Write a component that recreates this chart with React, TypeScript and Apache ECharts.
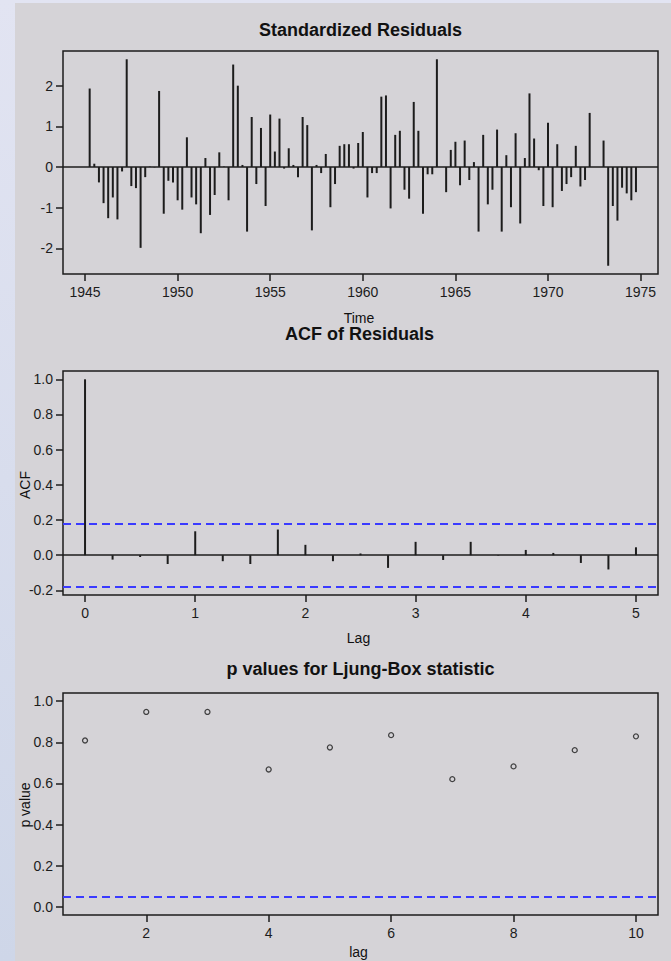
import React, { useEffect, useRef } from "react";
import * as echarts from "echarts";

// ---------- data ----------
const residualStartYear = 1945;
const residualsPerYear = 4;
const residuals = [
  0.0, 1.93, 0.08, -0.38,
  -0.89, -1.26, -0.75, -1.29,
  -0.11, 2.65, -0.47, -0.52,
  -1.99, -0.25, 0.01, -0.01,
  1.87, -1.15, -0.34, -0.38,
  -0.82, -1.05, 0.73, -0.75,
  -0.92, -1.63, 0.22, -1.18,
  -0.69, 0.36, 0.01, -0.82,
  2.52, 2.0, 0.05, -1.59,
  1.23, -0.42, 0.96, -0.96,
  1.29, 0.38, 1.19, -0.04,
  0.46, 0.05, -0.25, 1.23,
  1.03, -1.56, 0.05, -0.15,
  0.32, -0.99, -0.42, 0.52,
  0.56, 0.56, -0.04, 0.59,
  0.86, -0.75, -0.15, -0.15,
  1.73, 1.76, -1.02, 0.79,
  0.89, -0.56, -0.78, 1.6,
  0.89, -1.15, -0.18, -0.18,
  2.65, 0.0, -0.62, 0.42,
  0.62, -0.45, 0.65, -0.32,
  0.12, -1.59, 0.79, -0.92,
  -0.56, 0.92, -1.59, 0.29,
  -0.99, 0.83, -1.39, 0.22,
  1.81, 0.7, -0.08, -0.96,
  1.09, -0.99, 0.56, -0.59,
  -0.42, -0.25, 0.52, -0.48,
  -0.32, 1.33, 0.0, 0.0,
  0.65, -2.43, -0.96, -1.32,
  -0.51, -0.65, -0.82, -0.62,
];
const timeTicks = [1945, 1950, 1955, 1960, 1965, 1970, 1975];
const residualTicks = [-2, -1, 0, 1, 2];

const acfLags = [
  0, 0.25, 0.5, 0.75, 1, 1.25, 1.5, 1.75, 2, 2.25, 2.5,
  2.75, 3, 3.25, 3.5, 3.75, 4, 4.25, 4.5, 4.75, 5,
];
const acfValues = [
  1.0, -0.025, -0.01, -0.05, 0.136, -0.034, -0.05, 0.146, 0.059, -0.034, 0.01,
  -0.072, 0.076, -0.027, 0.076, -0.003, 0.03, 0.013, -0.044, -0.081, 0.045,
];
const acfBound = 0.179;
const acfXTicks = [0, 1, 2, 3, 4, 5];
const acfYTicks = [-0.2, 0, 0.2, 0.4, 0.6, 0.8, 1.0];

const ljungLags = [1, 2, 3, 4, 5, 6, 7, 8, 9, 10];
const ljungPValues = [0.809, 0.948, 0.948, 0.668, 0.775, 0.835, 0.621, 0.683, 0.762, 0.829];
const pThreshold = 0.05;
const pXTicks = [2, 4, 6, 8, 10];
const pYTicks = [0, 0.2, 0.4, 0.6, 0.8, 1.0];

// ---------- helpers ----------
const FONT = '"Liberation Sans", Arial, Helvetica, sans-serif';
const INK = "#1c1c1c";
const BLUE = "#3a3aff";

function rRange(lo: number, hi: number): [number, number] {
  const d = (hi - lo) * 0.04;
  return [lo - d, hi + d];
}

function valueAxis(
  gridIndex: number,
  range: [number, number],
  ticks: number[],
  fmt: (v: number) => string,
  margin: number
) {
  return {
    gridIndex,
    type: "value",
    min: range[0],
    max: range[1],
    axisLine: { show: false, onZero: false },
    splitLine: { show: false },
    axisTick: {
      show: true,
      inside: false,
      length: 7,
      customValues: ticks,
      lineStyle: { color: INK, width: 1.5 },
    },
    axisLabel: {
      customValues: ticks,
      formatter: fmt,
      fontSize: 14,
      fontFamily: FONT,
      color: INK,
      margin,
    },
  };
}

function stemSeries(axisIndex: number, data: number[][]) {
  return {
    type: "custom",
    coordinateSystem: "cartesian2d",
    xAxisIndex: axisIndex,
    yAxisIndex: axisIndex,
    silent: true,
    data,
    encode: { x: 0, y: 1 },
    renderItem: (_params: any, api: any) => {
      const x = api.value(0);
      const y = api.value(1);
      const a = api.coord([x, 0]);
      const b = api.coord([x, y]);
      return {
        type: "line",
        shape: { x1: a[0], y1: a[1], x2: b[0], y2: b[1] },
        style: { stroke: INK, lineWidth: 2 },
      };
    },
  };
}

function refLine(value: number, color: string, dashed: boolean) {
  return {
    yAxis: value,
    lineStyle: {
      color,
      width: dashed ? 2 : 1.6,
      type: dashed ? [8, 5] : "solid",
    },
  };
}

function holderSeries(axisIndex: number, data: number[][], lines: any[]) {
  return {
    type: "line",
    xAxisIndex: axisIndex,
    yAxisIndex: axisIndex,
    data,
    showSymbol: false,
    symbol: "none",
    silent: true,
    lineStyle: { opacity: 0, width: 0 },
    markLine: {
      silent: true,
      symbol: "none",
      animation: false,
      label: { show: false },
      data: lines,
    },
  };
}

function text(
  str: string,
  x: number,
  y: number,
  size: number,
  bold: boolean,
  rotate = 0
) {
  return {
    type: "text",
    x,
    y,
    rotation: rotate,
    silent: true,
    style: {
      text: str,
      font: `${bold ? "bold " : ""}${size}px ${FONT}`,
      fill: "#111",
      align: "center",
      verticalAlign: "middle",
      textAlign: "center",
      textVerticalAlign: "middle",
    },
  };
}

export default function App() {
  const ref = useRef<HTMLDivElement>(null);

  useEffect(() => {
    if (!ref.current) return;
    const chart = echarts.init(ref.current, undefined, { renderer: "svg" });

    const residualPoints = residuals.map((v, i) => [
      residualStartYear + i / residualsPerYear,
      v,
    ]);
    const acfPoints = acfLags.map((l, i) => [l, acfValues[i]]);
    const pPoints = ljungLags.map((l, i) => [l, ljungPValues[i]]);

    const tRange = rRange(
      residualPoints[0][0],
      residualPoints[residualPoints.length - 1][0]
    );
    const rRangeY = rRange(Math.min(...residuals), Math.max(...residuals));
    const acfX = rRange(acfLags[0], acfLags[acfLags.length - 1]);
    const acfY = rRange(
      Math.min(-acfBound, ...acfValues),
      Math.max(acfBound, ...acfValues)
    );
    const pX = rRange(ljungLags[0], ljungLags[ljungLags.length - 1]);
    const pY = rRange(0, 1);

    const gridBase = {
      left: 63,
      right: 13,
      show: true,
      borderColor: INK,
      borderWidth: 1.5,
      backgroundColor: "transparent",
    };

    const intFmt = (v: number) => String(Math.round(v));
    const dec1 = (v: number) => (Math.abs(v) < 1e-9 ? 0 : v).toFixed(1);

    chart.setOption({
      animation: false,
      backgroundColor: "transparent",
      grid: [
        { ...gridBase, top: 51, height: 223 },
        { ...gridBase, top: 371, height: 224 },
        { ...gridBase, top: 693, height: 222 },
      ],
      xAxis: [
        valueAxis(0, tRange, timeTicks, intFmt, 11),
        valueAxis(1, acfX, acfXTicks, intFmt, 11),
        valueAxis(2, pX, pXTicks, intFmt, 11),
      ],
      yAxis: [
        valueAxis(0, rRangeY, residualTicks, intFmt, 10),
        valueAxis(1, acfY, acfYTicks, dec1, 10),
        valueAxis(2, pY, pYTicks, dec1, 10),
      ],
      series: [
        holderSeries(0, residualPoints, [refLine(0, INK, false)]),
        stemSeries(0, residualPoints),
        holderSeries(1, acfPoints, [
          refLine(0, INK, false),
          refLine(acfBound, BLUE, true),
          refLine(-acfBound, BLUE, true),
        ]),
        stemSeries(1, acfPoints),
        {
          type: "scatter",
          xAxisIndex: 2,
          yAxisIndex: 2,
          data: pPoints,
          symbol: "circle",
          symbolSize: 5,
          silent: true,
          itemStyle: { color: "transparent", borderColor: INK, borderWidth: 1.3 },
          markLine: {
            silent: true,
            symbol: "none",
            animation: false,
            label: { show: false },
            data: [refLine(pThreshold, BLUE, true)],
          },
        },
      ],
      graphic: [
        text("Standardized Residuals", 360.5, 29.5, 18, true),
        text("Time", 359, 317.5, 14, false),
        text("ACF of Residuals", 359.5, 334, 18, true),
        text("ACF", 25, 485, 14, false, Math.PI / 2),
        text("Lag", 358.5, 638, 14, false),
        text("p values for Ljung-Box statistic", 360.5, 669, 18, true),
        text("p value", 25, 805, 14, false, Math.PI / 2),
        text("lag", 358.5, 952, 14, false),
      ],
    });

    return () => chart.dispose();
  }, []);

  return (
    <div
      style={{
        position: "fixed",
        left: 0,
        top: 0,
        width: 671,
        height: 961,
        overflow: "hidden",
        background: "linear-gradient(to bottom, #e2e4f2, #ced6e8)",
      }}
    >
      <div
        style={{
          position: "absolute",
          left: 15,
          top: 3,
          right: 0,
          bottom: 0,
          background: "#d5d3d7",
        }}
      />
      <div
        ref={ref}
        style={{ position: "absolute", left: 0, top: 0, width: 671, height: 961 }}
      />
    </div>
  );
}
